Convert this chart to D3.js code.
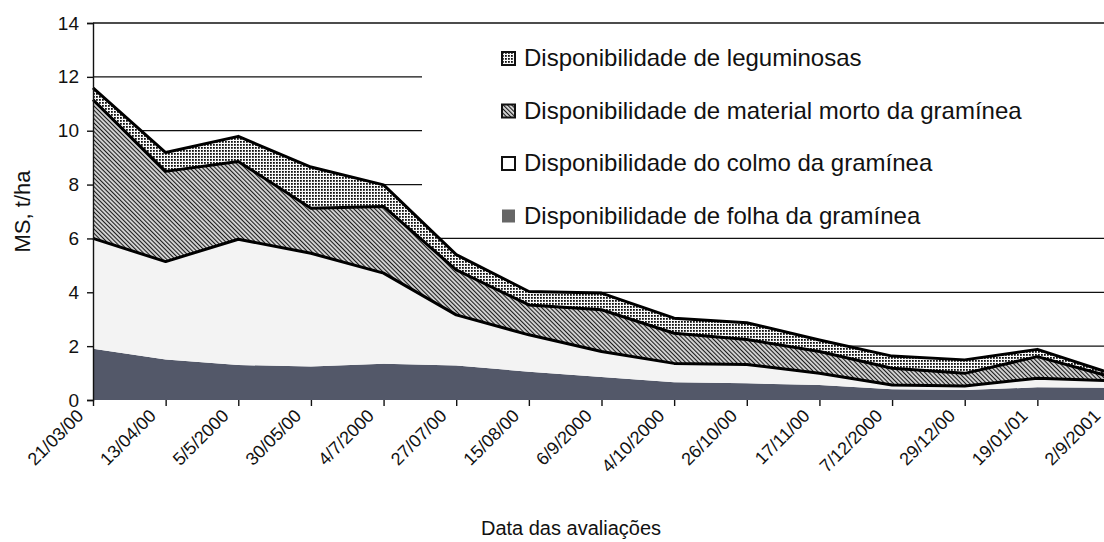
<!DOCTYPE html>
<html>
<head>
  <meta http-equiv="Content-Type" content="text/html;charset=utf-8">
  <title>Disponibilidade de MS</title>
  <script src="https://d3js.org/d3.v7.min.js"></script>
  <style>
    html, body { margin: 0; padding: 0; background: #fff; }
    text { font-family: "Liberation Sans", Arial, sans-serif; fill: #111; }
    .axis path, .axis line { stroke: #111; stroke-width: 1.4px; }
  </style>
</head>
<body>
<script type="text/javascript">

  // dates of evaluation (category axis)
  var categories = ["21/03/00", "13/04/00", "5/5/2000", "30/05/00", "4/7/2000", "27/07/00",
    "15/08/00", "6/9/2000", "4/10/2000", "26/10/00", "17/11/00", "7/12/2000",
    "29/12/00", "19/01/01", "2/9/2001"];

  // t/ha for each component, bottom to top of the stack
  var folha = [1.90, 1.50, 1.30, 1.24, 1.35, 1.28, 1.05, 0.85, 0.66, 0.62, 0.56, 0.40, 0.37, 0.47, 0.45];
  var colmo = [4.10, 3.64, 4.67, 4.21, 3.36, 1.88, 1.37, 0.95, 0.70, 0.70, 0.43, 0.16, 0.15, 0.34, 0.27];
  var morto = [5.15, 3.35, 2.89, 1.67, 2.48, 1.67, 1.11, 1.55, 1.12, 0.93, 0.81, 0.62, 0.47, 0.80, 0.15];
  var legum = [0.44, 0.70, 0.93, 1.53, 0.80, 0.57, 0.50, 0.62, 0.56, 0.62, 0.43, 0.45, 0.50, 0.27, 0.13];

  var yTicks = [0, 2, 4, 6, 8, 10, 12, 14];

  var legendLabels = [
    "Disponibilidade de leguminosas",
    "Disponibilidade de material morto da gramínea",
    "Disponibilidade do colmo da gramínea",
    "Disponibilidade de folha da gramínea"
  ];

  var W = 1104, H = 542;

  var rows = categories.map(function (c, i) {
    return { date: c, folha: folha[i], colmo: colmo[i], morto: morto[i], legum: legum[i] };
  });
  var keys = ["folha", "colmo", "morto", "legum"];
  var series = d3.stack().keys(keys)(rows);

  var x = d3.scalePoint().domain(categories).range([93, 1110]);
  var y = d3.scaleLinear().domain([0, 14]).range([400, 23]);

  var svg = d3.select("body").append("svg")
    .attr("width", W)
    .attr("height", H);

  // patterns
  var defs = svg.append("defs");
  var pDots = defs.append("pattern").attr("id", "dots")
    .attr("patternUnits", "userSpaceOnUse").attr("width", 3).attr("height", 3);
  pDots.append("rect").attr("width", 3).attr("height", 3).attr("fill", "#fafafa");
  pDots.append("rect").attr("width", 1.8).attr("height", 1.8).attr("fill", "#111");

  var pHatch = defs.append("pattern").attr("id", "hatch")
    .attr("patternUnits", "userSpaceOnUse").attr("width", 3).attr("height", 3)
    .attr("patternTransform", "rotate(-45)");
  pHatch.append("rect").attr("width", 3).attr("height", 3).attr("fill", "#d4d4d4");
  pHatch.append("line").attr("x1", 0.5).attr("x2", 0.5).attr("y1", 0).attr("y2", 3)
    .attr("stroke", "#1a1a1a").attr("stroke-width", 1.1);

  var fills = { folha: "#535869", colmo: "#f3f3f3", morto: "url(#hatch)", legum: "url(#dots)" };

  // gridlines
  svg.append("g").selectAll("line")
    .data(yTicks.filter(function (d) { return d > 0; }))
    .enter().append("line")
    .attr("x1", x.range()[0]).attr("x2", x.range()[1])
    .attr("y1", function (d) { return y(d); })
    .attr("y2", function (d) { return y(d); })
    .attr("stroke", "#111").attr("stroke-width", 1.3);

  // legend box hides the gridlines under it
  var legX = 422, legY = 30;
  svg.append("rect")
    .attr("x", legX).attr("y", legY)
    .attr("width", W - legX).attr("height", 206)
    .attr("fill", "#fff");

  var area = d3.area()
    .x(function (d) { return x(d.data.date); })
    .y0(function (d) { return y(d[0]); })
    .y1(function (d) { return y(d[1]); });

  svg.append("g").selectAll("path")
    .data(series)
    .enter().append("path")
    .attr("d", area)
    .attr("fill", function (d) { return fills[d.key]; });

  var topLine = d3.line()
    .x(function (d) { return x(d.data.date); })
    .y(function (d) { return y(d[1]); });

  svg.append("g").selectAll("path")
    .data(series.filter(function (d) { return d.key !== "folha"; }))
    .enter().append("path")
    .attr("d", topLine)
    .attr("fill", "none")
    .attr("stroke", "#000")
    .attr("stroke-width", 3)
    .attr("stroke-linejoin", "round");

  // axes
  var yAxis = svg.append("g").attr("class", "axis")
    .attr("transform", "translate(" + x.range()[0] + ",0)")
    .call(d3.axisLeft(y).tickValues(yTicks).tickSize(6).tickPadding(8));
  yAxis.selectAll("text").style("font-size", "19px");

  var xAxis = svg.append("g").attr("class", "axis")
    .attr("transform", "translate(0," + y(0) + ")")
    .call(d3.axisBottom(x).tickSize(6).tickSizeOuter(0));
  xAxis.select(".domain").remove();
  xAxis.selectAll("text")
    .style("font-size", "18px")
    .attr("text-anchor", "end")
    .attr("dy", null)
    .attr("y", 0)
    .attr("transform", "translate(-9,17) rotate(-45)");

  svg.append("text")
    .attr("transform", "translate(30," + y(7) + ") rotate(-90)")
    .attr("text-anchor", "middle")
    .style("font-size", "22px")
    .text("MS, t/ha");

  svg.append("text")
    .attr("x", 571).attr("y", 535)
    .attr("text-anchor", "middle")
    .style("font-size", "20px")
    .text("Data das avaliações");

  // legend
  var legFills = [fills.legum, fills.morto, "#fff", "#666"];
  var legStroke = ["#111", "#111", "#111", "none"];
  var leg = svg.append("g").selectAll("g")
    .data(legendLabels)
    .enter().append("g")
    .attr("transform", function (d, i) { return "translate(502," + (52 + i * 52.5) + ")"; });

  leg.append("rect")
    .attr("width", 13).attr("height", 13)
    .attr("fill", function (d, i) { return legFills[i]; })
    .attr("stroke", function (d, i) { return legStroke[i]; })
    .attr("stroke-width", 2);

  leg.append("text")
    .attr("x", 22).attr("y", 14)
    .style("font-size", "24px")
    .text(function (d) { return d; });

</script>
</body>
</html>
